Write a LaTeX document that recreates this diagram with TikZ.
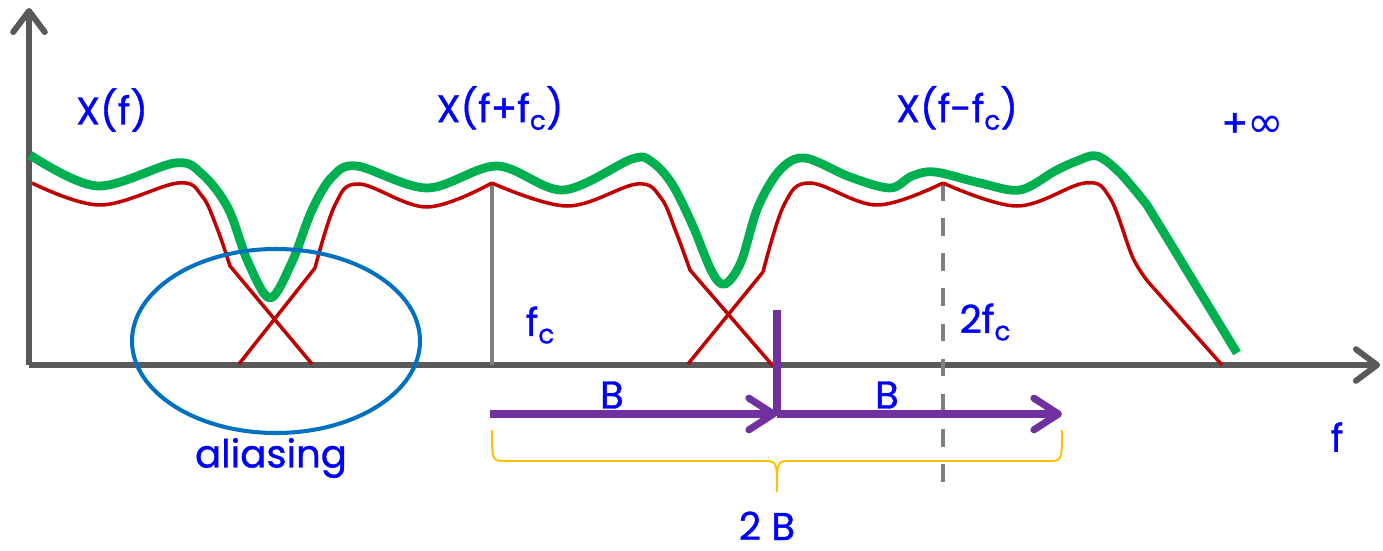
\documentclass[tikz,border=0pt]{standalone}
\usepackage{fontspec}
\setmainfont{Poppins}[FakeBold=0.9]
\newfontfamily\symfont{DejaVu Sans}
\usetikzlibrary{arrows.meta}
\definecolor{axisgray}{HTML}{595959}
\definecolor{linegray}{HTML}{7F7F7F}
\definecolor{specred}{HTML}{C00000}
\definecolor{specgreen}{HTML}{00B050}
\definecolor{aliasblue}{HTML}{0070C0}
\definecolor{bandpurple}{HTML}{7030A0}
\definecolor{bracegold}{HTML}{FFC000}
\definecolor{labelblue}{HTML}{0000FF}
\newcommand{\lowc}{\raisebox{-0.35ex}{\fontsize{15}{15}\selectfont c}}
\tikzset{
  axis/.style={axisgray, line width=3.4pt, -{Straight Barb[length=12pt,width=18pt,round]}},
  spectrum/.style={specred, line width=2pt, line join=round},
  total/.style={specgreen, line width=5pt, line join=round},
  band/.style={bandpurple, line width=4pt, -{Straight Barb[length=14pt,width=18pt,round]}},
  lbl/.style={labelblue, font=\fontsize{22}{24}\selectfont, inner sep=0pt}
}
\begin{document}
\begin{tikzpicture}[x=0.02cm, y=-0.02cm]
        \useasboundingbox (0,0) rectangle (1383,551);
        % Osie
        \coordinate (o) at (29,365);
        \draw[axis] (o) -- (29,8);
        \draw[axis] (o) -- (1380,365);
        
        % Linie pomocnicze
        \coordinate (fc) at (492,183);
        \coordinate (fc2) at (943,183);
        \draw[linegray, line width=2.2pt] (fc) -- (492,365);
        \draw[linegray, line width=2.3pt, dash pattern=on 10pt off 10pt] (fc2) -- (943,490);
        
        % Widma czerwone
        \draw[spectrum] plot[smooth, tension=0.6] coordinates {(32,183) (100,205) (178,183) (202,196) (217,228) (230,266)} -- (312,364);
        \draw[spectrum] (239,364) -- (315,268) plot[smooth, tension=0.6] coordinates {(315,268) (335,205) (359,184) (427,207) (fc)};
        \draw[spectrum] plot[smooth, tension=0.6] coordinates {(fc) (567,206) (637,184) (661,198) (676,232) (690,270)} -- (773,366);
        \draw[spectrum] (688,364) -- (763,272) plot[smooth, tension=0.6] coordinates {(763,272) (784,205) (810,183) (877,205) (fc2)};
        \draw[spectrum] plot[smooth, tension=0.6] coordinates {(fc2) (1017,206) (1085,183) (1110,198) (1133,258) (1150,284)} -- (1222,365);
        
        % Suma
        \draw[total] plot[smooth, tension=0.55] coordinates {(30,155) (97,186) (175,163) (202,174) (228,208) (248,262) (270,298) (292,262) (312,210) (332,177) (357,166) (427,188) (497,166) (563,190) (632,159) (652,162) (672,184) (692,224) (712,272) (725,284) (741,262) (758,207) (780,170) (805,158) (850,177) (890,188) (912,176) (935,172) (980,183) (1020,190) (1055,171) (1077,161) (1097,156) (1120,173) (1147,205)} -- (1237,353);
        
        % Aliasing
        \draw[aliasblue, line width=2.3pt] (276,341) ellipse [x radius=144, y radius=92];
        \node[lbl] (alias) at (271,458) {aliasing};
        
        % Pasmo
        \coordinate (mid) at (777,414);
        \draw[bandpurple, line width=4pt] (777,310) -- (777,416);
        \draw[band] (490,414) -- (mid);
        \draw[band] (mid) -- (1062,414);
        \draw[bracegold, line width=1.1pt] (492,430) .. controls (492,461) .. (506,461) -- (763,461)
          .. controls (777,461) .. (777,492) .. controls (777,461) .. (791,461) -- (1048,461)
          .. controls (1062,461) .. (1062,430);
        
        % Etykiety
        \node[lbl] (xf) at (112,110) {X(f)};
        \node[lbl] (xfp) at (500,108) {X(f+f\lowc)};
        \node[lbl] (xfm) at (957,108) {X(f-f\lowc)};
        \node[lbl] (inf) at (1253,125) {+{\symfont\fontsize{25}{25}\selectfont ∞}};
        \node[lbl] (lfc) at (540,325) {f\lowc};
        \node[lbl] (lfc2) at (985,322) {2f\lowc};
        \node[lbl] (b1) at (612,395) {B};
        \node[lbl] (b2) at (887,395) {B};
        \node[lbl, anchor=base] (bb) at (767,540) {2 B};
        \node[lbl] (f) at (1337,437) {f};
    \end{tikzpicture}
\end{document}
